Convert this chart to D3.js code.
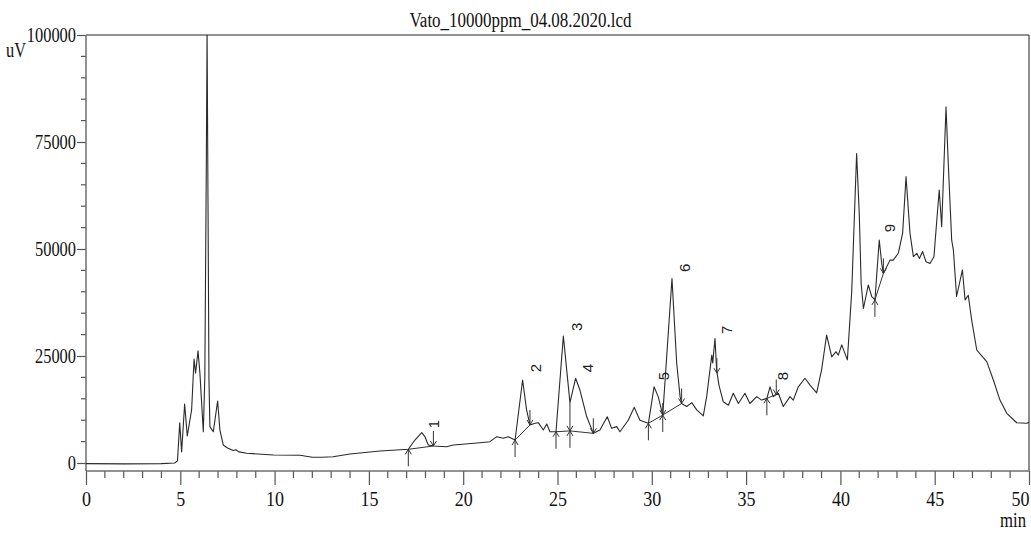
<!DOCTYPE html>
<html><head><meta charset="utf-8">
<script src="https://cdn.jsdelivr.net/npm/d3@7"></script>
<style>
html,body{margin:0;padding:0;background:#fff;}
svg{display:block;}
</style></head>
<body>
<svg id="chart" width="1031" height="533"></svg>
<script>
// ---- data ----
const title = "Vato_10000ppm_04.08.2020.lcd";
const yTicks = [0, 25000, 50000, 75000, 100000];
const xTicks = [0, 5, 10, 15, 20, 25, 30, 35, 40, 45, 50];
const timeMin = [0,2,4,4.7,4.85,4.97,5.07,5.23,5.37,5.6,5.73,5.81,5.94,6.04,6.22,6.3,6.38,6.42,6.47,6.52,6.57,6.75,6.98,7.1,7.28,7.5,7.81,7.95,8.1,8.52,9.93,11.35,12.0,12.5,13.1,14.0,15.59,17.09,17.44,17.8,17.97,18.15,18.42,19.12,19.48,20.89,21.42,21.78,22.13,22.39,22.75,23.15,23.36,23.54,23.81,23.98,24.25,24.43,24.6,24.92,25.31,25.66,25.96,26.19,26.55,26.9,27.25,27.64,27.87,28.14,28.31,28.75,29.07,29.37,29.82,30.12,30.34,30.58,31.07,31.32,31.5,31.58,31.85,32.12,32.38,32.73,32.91,33.18,33.23,33.35,33.44,33.56,33.79,34.06,34.32,34.59,34.94,35.2,35.56,35.82,36.1,36.27,36.44,36.71,36.97,37.33,37.5,37.77,38.12,38.39,38.74,39.0,39.27,39.54,39.77,39.89,40.07,40.37,40.6,40.86,41.0,41.1,41.22,41.48,41.66,41.83,42.06,42.19,42.28,42.63,42.8,43.07,43.3,43.48,43.69,43.87,44.05,44.19,44.36,44.54,44.75,44.96,45.14,45.24,45.37,45.6,45.72,45.9,45.99,46.16,46.47,46.61,46.78,46.96,47.23,47.46,47.76,48.11,48.46,48.82,49.35,49.88,50];
const signalUV = [-150,-200,-150,0,500,9400,2600,13800,6300,12400,24300,21000,26200,21000,7300,20000,70000,101000,60000,19400,8500,7300,14500,7700,4200,3500,2900,3100,2600,2270,1870,1800,1330,1350,1470,2100,2800,3200,5370,7080,6150,4200,3970,3800,4200,4740,4980,6150,5770,6150,5370,19400,12400,8900,9270,9420,7700,9100,7300,7300,29670,14100,19800,17050,10800,6930,7700,10800,8100,8500,7300,10000,13000,10000,9270,17800,15500,11200,43100,23300,15500,13900,13200,14100,12400,11000,15500,25200,23400,29100,21700,18200,14300,13500,16300,13900,16300,13900,15500,14700,15100,17800,15500,16300,13200,15500,14700,17800,19800,18200,16400,21700,29900,24800,26000,25200,27600,24100,40000,72300,58300,42000,36100,41600,38900,38100,52100,46600,44300,47400,47400,49000,53700,66900,53700,48200,49000,47800,49400,47000,46600,48200,58300,63800,55200,83200,70000,52100,49800,38900,45100,38100,39200,33400,26400,25200,23700,19400,14700,11600,9400,9270,9500];

// integration baselines (time, uV)
const baselines = [
  [[17.09,3200],[18.42,3970]],
  [[22.75,5370],[23.54,8900]],
  [[24.92,7300],[25.66,7500],[26.9,6930]],
  [[29.82,9270],[30.58,11200],[31.58,13900]],
  [[36.1,15100],[36.6,16000]],
  [[41.83,38100],[42.28,44300]]
];
const startMarks = [[17.09,3200],[22.75,5370],[24.92,7300],[29.82,9270],[36.1,15100],[41.83,38100]];
const endMarks = [[18.42,3970],[23.54,8900],[26.9,6930],[31.58,13900],[33.45,21000],[36.6,16000],[42.28,44300]];
const dropMarks = [[25.66,7500,14100],[30.58,11200,11200]];
const peakIds = ["1","2","3","4","5","6","7","8","9"];
const peakLabelTime = [18.45,23.86,26.03,26.62,30.65,31.76,33.99,36.96,42.63];
const peakLabelUV = [9100,22200,31800,22200,20300,45600,31100,20300,54900];

// ---- layout ----
const svg = d3.select("#chart");
const L = 86, R = 1029, T = 35, B = 471;
const x = d3.scaleLinear().domain([0, 50]).range([L, R]);
const y = d3.scaleLinear().domain([-1870, 100000]).range([B, T]);
const serif = "'Liberation Serif','Times New Roman',serif";
const axisColor = "#6e6e6e";

svg.append("defs").append("clipPath").attr("id","plotclip")
  .append("rect").attr("x", L).attr("y", T).attr("width", R - L).attr("height", B - T);

// frame
svg.append("line").attr("x1",L).attr("x2",R).attr("y1",T).attr("y2",T).attr("stroke",axisColor).attr("stroke-width",1.5);
svg.append("line").attr("x1",R).attr("x2",R).attr("y1",T).attr("y2",B).attr("stroke","#444").attr("stroke-width",1.2);

// y axis
const yAxis = d3.axisLeft(y).tickValues(yTicks).tickSize(9).tickFormat(d3.format("d"));
const gy = svg.append("g").attr("transform",`translate(${L},0)`).call(yAxis);
gy.select(".domain").remove();
gy.selectAll(".tick line").attr("stroke","#555").attr("stroke-width",1.2);
gy.selectAll(".tick text").attr("font-family",serif).attr("font-size",20).attr("fill","#111")
  .attr("x",-10).attr("dy","0.34em")
  .attr("textLength", d => String(d).length * 8.2).attr("lengthAdjust","spacingAndGlyphs");
const yMinor = d3.range(5000, 100000, 5000).filter(v => v % 25000 !== 0);
svg.append("g").selectAll("line").data(yMinor).join("line")
  .attr("x1",L-5).attr("x2",L).attr("y1",d=>y(d)).attr("y2",d=>y(d)).attr("stroke","#555").attr("stroke-width",1.2);
svg.append("line").attr("x1",L).attr("x2",L).attr("y1",T).attr("y2",B).attr("stroke",axisColor).attr("stroke-width",1.5);

// x axis
const xAxis = d3.axisBottom(x).tickValues(xTicks).tickSize(14).tickFormat(d3.format("d"));
const gx = svg.append("g").attr("transform",`translate(0,${B})`).call(xAxis);
gx.select(".domain").remove();
gx.selectAll(".tick line").attr("stroke","#555").attr("stroke-width",1.2);
gx.selectAll(".tick text").attr("font-family",serif).attr("font-size",21).attr("fill","#111")
  .attr("y",20).attr("dy","0.71em")
  .attr("text-anchor", d => d === 50 ? "end" : "middle")
  .attr("x", 0)
  .attr("textLength", d => String(d).length * 9).attr("lengthAdjust","spacingAndGlyphs");
const xMinor = d3.range(1, 50, 1).filter(v => v % 5 !== 0);
svg.append("g").selectAll("line").data(xMinor).join("line")
  .attr("x1",d=>x(d)).attr("x2",d=>x(d)).attr("y1",B).attr("y2",B+7).attr("stroke","#555").attr("stroke-width",1.2);
svg.append("line").attr("x1",L).attr("x2",R).attr("y1",B).attr("y2",B).attr("stroke",axisColor).attr("stroke-width",1.5);

// texts
svg.append("text").attr("x",(L+R)/2 - 37).attr("y",27).attr("text-anchor","middle")
  .attr("font-family",serif).attr("font-size",20).attr("fill","#111")
  .attr("textLength",222).attr("lengthAdjust","spacingAndGlyphs").text(title);
svg.append("text").attr("x",6).attr("y",57).attr("font-family",serif).attr("font-size",21).attr("fill","#111")
  .attr("textLength",20).attr("lengthAdjust","spacingAndGlyphs").text("uV");
svg.append("text").attr("x",R - 3).attr("y",527).attr("text-anchor","end").attr("font-family",serif).attr("font-size",20).attr("fill","#111")
  .attr("textLength",26).attr("lengthAdjust","spacingAndGlyphs").text("min");

// chromatogram
const pts = timeMin.map((t,i)=>[t, signalUV[i]]);
const line = d3.line().x(d=>x(d[0])).y(d=>y(d[1]));
svg.append("path").datum(pts).attr("d",line).attr("clip-path","url(#plotclip)")
  .attr("fill","none").attr("stroke","#2a2a2a").attr("stroke-width",1.1).attr("stroke-linejoin","round");

// baselines
const mk = svg.append("g").attr("stroke","#333").attr("stroke-width",1).attr("fill","none");
baselines.forEach(seg => mk.append("path").attr("d", line(seg)));
// start arrows (from below)
startMarks.forEach(([t,v]) => {
  const px = x(t), py = y(v);
  mk.append("line").attr("x1",px).attr("x2",px).attr("y1",py+17).attr("y2",py);
  mk.append("path").attr("d",`M${px-3},${py+5}L${px},${py}L${px+3},${py+5}`);
});
// end arrows (from above)
endMarks.forEach(([t,v]) => {
  const px = x(t), py = y(v);
  mk.append("line").attr("x1",px).attr("x2",px).attr("y1",py-15).attr("y2",py);
  mk.append("path").attr("d",`M${px-3},${py-5}L${px},${py}L${px+3},${py-5}`);
});
// drop lines between fused peaks
dropMarks.forEach(([t,vb,vt]) => {
  const px = x(t), pb = y(vb), pt = y(vt);
  mk.append("line").attr("x1",px).attr("x2",px).attr("y1",Math.min(pt,pb-12)).attr("y2",pb+17);
  mk.append("path").attr("d",`M${px-3},${pb+5}L${px},${pb}L${px+3},${pb+5}`);
  mk.append("path").attr("d",`M${px-3},${pb-5}L${px},${pb}L${px+3},${pb-5}`);
});

// peak labels
svg.append("g").selectAll("text").data(peakIds).join("text")
  .attr("transform",(d,i)=>`translate(${x(peakLabelTime[i])},${y(peakLabelUV[i])}) rotate(-90)`)
  .attr("text-anchor","middle").attr("dy","0.35em")
  .attr("font-family","'Liberation Sans',Arial,sans-serif").attr("font-size",15).attr("fill","#222")
  .text(d=>d);
</script>
</body></html>
